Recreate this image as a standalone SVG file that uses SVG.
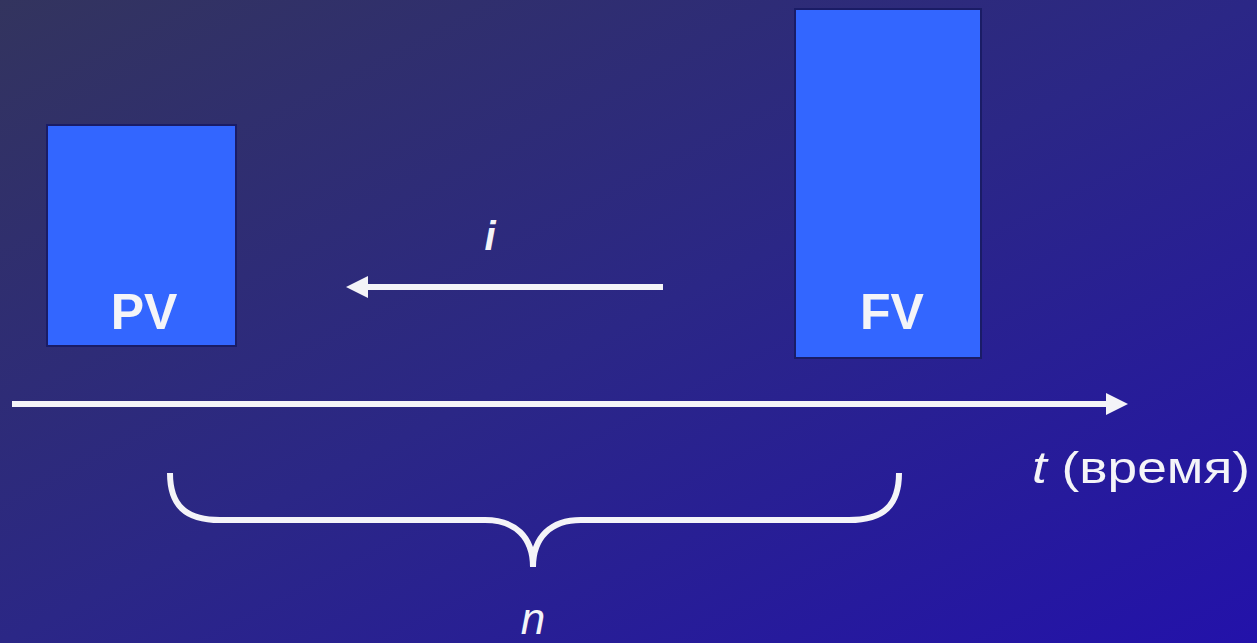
<svg xmlns="http://www.w3.org/2000/svg" width="1257" height="643" viewBox="0 0 1257 643">
<defs>
<linearGradient id="bg" x1="0" y1="0" x2="1" y2="1">
<stop offset="0" stop-color="#33345e"/>
<stop offset="0.5" stop-color="#2b2786"/>
<stop offset="1" stop-color="#2312aa"/>
</linearGradient>
<marker id="ah2" viewBox="0 0 22 22" refX="2" refY="11" markerWidth="22" markerHeight="22" markerUnits="userSpaceOnUse" orient="auto">
<path d="M0,0 L22,11 L0,22 Z" fill="#f4f4f8"/>
</marker>
</defs>
<style>
.box{fill:#3366ff;stroke:#1a1c66;stroke-width:2}
.lbl{font-family:"Liberation Sans",Arial,sans-serif;font-weight:bold;font-size:50px;fill:#f4f4f8;text-anchor:middle}
.txt{font-family:"Liberation Sans",Arial,sans-serif;fill:#f4f4f8}
.ln{stroke:#f4f4f8;stroke-width:6;fill:none}
</style>
<rect width="1257" height="643" fill="url(#bg)"/>
<g id="pv">
<rect class="box" x="47" y="125" width="189" height="221"/>
<text class="lbl" x="144" y="329">PV</text>
</g>
<g id="fv">
<rect class="box" x="795" y="9" width="186" height="349"/>
<text class="lbl" x="892" y="329">FV</text>
</g>
<g id="connectors">
<line class="ln" x1="12" y1="404" x2="1108" y2="404" marker-end="url(#ah2)"/>
<line class="ln" x1="663" y1="287" x2="366" y2="287" marker-end="url(#ah2)"/>
<path class="ln" stroke-width="5" d="M170,473 C170,505 185,520 220,520 L485,520 C515,520 533,537 533,567 C533,537 551,520 581,520 L849,520 C884,520 899,505 899,473"/>
</g>
<g id="labels">
<text class="txt" x="490" y="250" font-size="40" font-style="italic" font-weight="bold" text-anchor="middle">i</text>
<text class="txt" x="1032" y="483" font-size="44" textLength="218" lengthAdjust="spacingAndGlyphs"><tspan font-style="italic">t</tspan> (время)</text>
<text class="txt" x="533" y="634" font-size="44" font-style="italic" text-anchor="middle">n</text>
</g>
</svg>
